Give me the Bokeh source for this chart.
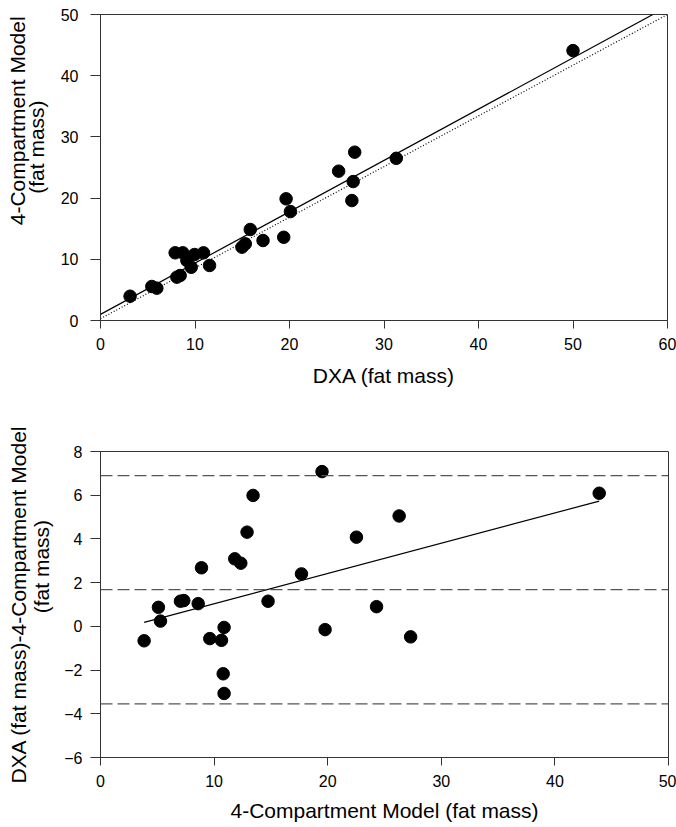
from bokeh.plotting import figure
from bokeh.models import Range1d, FixedTicker, Span
from bokeh.layouts import column
from bokeh.embed import file_html
from bokeh.resources import INLINE

# ---- Top panel data: DXA vs 4-Compartment Model (fat mass)
dxa_fat = [3.13, 5.43, 5.96, 7.9, 8.71, 8.08, 8.43, 9.14, 9.6, 9.95, 10.9, 11.54,
           14.97, 15.32, 15.85, 17.2, 19.39, 19.64, 20.1, 25.2, 26.6, 26.74, 26.9,
           31.3, 50.0]
c4_fat = [3.97, 5.56, 5.28, 11.06, 11.06, 7.08, 7.35, 9.8, 8.7, 10.78, 11.06, 8.99,
          11.98, 12.53, 14.87, 13.07, 13.6, 19.88, 17.8, 24.4, 19.6, 22.7, 27.5,
          26.5, 44.1]
fit_x = [0, 58.45]
fit_y = [1.0, 50.0]
ref_x = [0, 60]
ref_y = [0.3, 50.0]
top_xticks = [0, 10, 20, 30, 40, 50, 60]
top_yticks = [0, 10, 20, 30, 40, 50]

# ---- Bottom panel data: Bland-Altman
ba_mean = [3.84, 5.1, 5.28, 7.04, 7.33, 8.6, 8.89, 9.62, 10.65, 10.88, 10.8, 10.88,
           11.82, 12.35, 12.9, 13.43, 14.75, 17.69, 19.5, 19.77, 22.53, 24.3,
           26.29, 27.3, 43.9]
ba_diff = [-0.66, 0.87, 0.24, 1.15, 1.18, 1.04, 2.68, -0.56, -0.64, -0.05, -2.17, -3.07,
           3.09, 2.89, 4.31, 5.99, 1.15, 2.4, 7.08, -0.15, 4.08, 0.9,
           5.05, -0.48, 6.09]
ba_fit_x = [3.84, 43.9]
ba_fit_y = [0.18, 5.73]
ba_lines = [6.9, 1.68, -3.55]
bot_xticks = [0, 10, 20, 30, 40, 50]
bot_yticks = [-6, -4, -2, 0, 2, 4, 6, 8]

FONT = "Liberation Sans"
AX = "#333333"
NB = "\u00a0"  # non-breaking space used to offset label lines along the axis


def style(p, xt, yt):
    p.xaxis.ticker = FixedTicker(ticks=xt)
    p.yaxis.ticker = FixedTicker(ticks=yt)
    p.xgrid.visible = False
    p.ygrid.visible = False
    for ax in (p.xaxis, p.yaxis):
        ax.axis_line_color = AX
        ax.major_tick_line_color = AX
        ax.minor_tick_line_color = None
        ax.major_tick_in = 0
        ax.major_label_text_font = FONT
        ax.major_label_text_font_size = "16px"
        ax.major_label_text_color = "black"
        ax.axis_label_text_font = FONT
        ax.axis_label_text_font_size = "21px"
        ax.axis_label_text_font_style = "normal"
        ax.axis_label_text_color = "black"
    p.xaxis.major_tick_out = 8
    p.yaxis.major_tick_out = 10
    p.xaxis.major_label_standoff = 9
    p.outline_line_color = AX
    p.outline_line_width = 1
    p.background_fill_color = "white"
    p.border_fill_color = "white"


# ---------------- Top figure
p1 = figure(frame_width=567, frame_height=306, output_backend="svg",
            toolbar_location=None, x_range=Range1d(0, 60), y_range=Range1d(0, 50),
            min_border_left=100, min_border_right=9, min_border_top=14,
            min_border_bottom=75)
style(p1, top_xticks, top_yticks)
p1.yaxis.major_label_standoff = 12
p1.xaxis.axis_label = "DXA (fat mass)"
p1.xaxis.axis_label_standoff = 11
p1.yaxis.axis_label = NB * 16 + "4-Compartment Model\n" + NB * 7 + "(fat mass)"
p1.yaxis.axis_label_standoff = 10
p1.yaxis.axis_label_text_line_height = 0.8
p1.line(ref_x, ref_y, line_color="black", line_width=1.2, line_dash="1 2")
p1.line(fit_x, fit_y, line_color="black", line_width=1.2)
p1.scatter(dxa_fat, c4_fat, size=12.5, marker="circle", color="black")

# ---------------- Bottom figure
p2 = figure(frame_width=568, frame_height=306, output_backend="svg",
            toolbar_location=None, x_range=Range1d(0, 50), y_range=Range1d(-6, 8),
            min_border_left=100, min_border_right=8, min_border_top=56,
            min_border_bottom=70)
style(p2, bot_xticks, bot_yticks)
p2.yaxis.major_label_standoff = 8
p2.xaxis.axis_label = "4-Compartment Model (fat mass)"
p2.xaxis.axis_label_standoff = 9
p2.yaxis.axis_label = "DXA (fat mass)-4-Compartment Model\n" + NB * 13 + "(fat mass)"
p2.yaxis.axis_label_standoff = 8
p2.yaxis.axis_label_text_line_height = 1.0
for v in ba_lines:
    p2.add_layout(Span(location=v, dimension="width", line_color="#555555",
                       line_width=1.2, line_dash="12 5"))
p2.line(ba_fit_x, ba_fit_y, line_color="black", line_width=1.2)
p2.scatter(ba_mean, ba_diff, size=12.5, marker="circle", color="black")

layout = column(p1, p2, spacing=0)
open("out.html", "w").write(file_html(layout, INLINE))
